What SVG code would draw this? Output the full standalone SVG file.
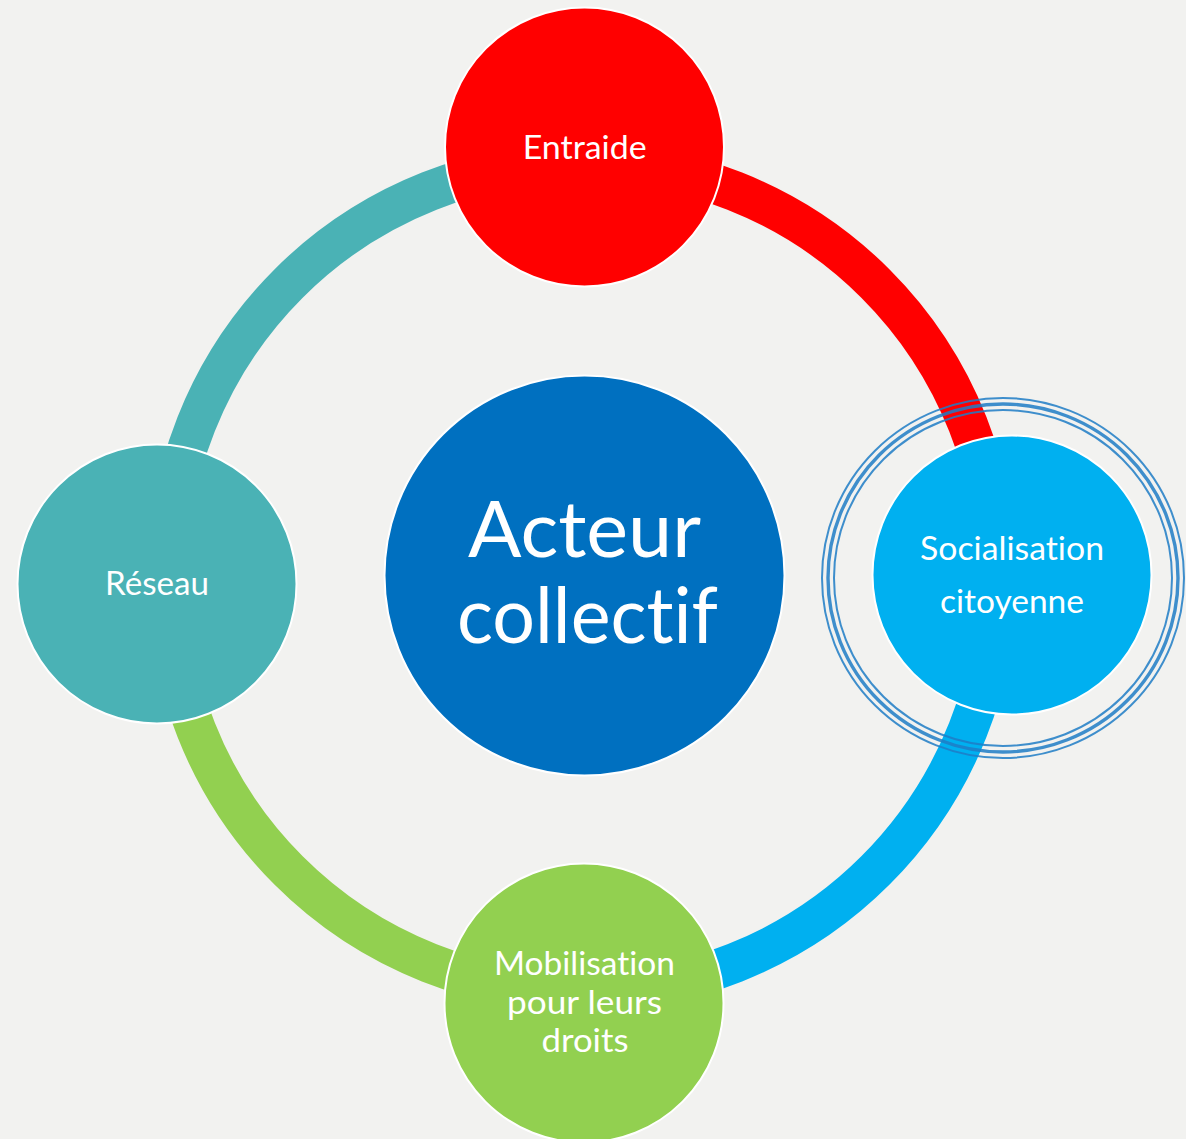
<svg xmlns="http://www.w3.org/2000/svg" width="1186" height="1139" viewBox="0 0 1186 1139">
<style>
.arc{fill:none;stroke-width:40;stroke-linecap:butt}
.node{stroke:#ffffff;stroke-width:2}
.lbl{font-family:Lato,"Open Sans","Liberation Sans",sans-serif;fill:#ffffff;text-anchor:middle;font-size:33px;font-variant-ligatures:none;font-feature-settings:"liga" 0,"dlig" 0}
.big{font-size:77px}
.ring{fill:none;stroke:#1e7dc5;stroke-opacity:0.85}
</style>
<rect width="1186" height="1139" fill="#f2f2f0"/>
<g id="connectors">
<path class="arc" stroke="#ff0000" d="M582,162 A415,415 0 0 1 997,577"/>
<path class="arc" stroke="#00b0f0" d="M997,577 A415,415 0 0 1 582,992"/>
<path class="arc" stroke="#92d050" d="M582,992 A415,415 0 0 1 167,577"/>
<path class="arc" stroke="#4ab2b5" d="M167,577 A415,415 0 0 1 582,162"/>
</g>
<g id="highlight-ring">
<ellipse class="ring" cx="1003" cy="578" rx="181" ry="180" stroke-width="2"/>
<ellipse class="ring" cx="1003" cy="578" rx="175" ry="174" stroke-width="3.4"/>
<ellipse class="ring" cx="1003" cy="578" rx="169" ry="168" stroke-width="2"/>
</g>
<g id="node-center">
<circle class="node" cx="584.5" cy="575.5" r="200" fill="#0070c0"/>
<text class="lbl big" x="584.5" y="557" textLength="233" lengthAdjust="spacingAndGlyphs">Acteur</text>
<text class="lbl big" x="587.5" y="643" textLength="261" lengthAdjust="spacingAndGlyphs">collectif</text>
</g>
<g id="node-entraide">
<circle class="node" cx="584.5" cy="147" r="139.5" fill="#ff0000"/>
<text class="lbl" x="584.7" y="159" textLength="124" lengthAdjust="spacingAndGlyphs">Entraide</text>
</g>
<g id="node-socialisation">
<circle class="node" cx="1012" cy="575" r="139.5" fill="#00b0f0"/>
<text class="lbl" x="1012" y="560" textLength="184" lengthAdjust="spacingAndGlyphs">Socialisation</text>
<text class="lbl" x="1012" y="613" textLength="144" lengthAdjust="spacingAndGlyphs">citoyenne</text>
</g>
<g id="node-mobilisation">
<circle class="node" cx="584" cy="1003" r="139.5" fill="#92d050"/>
<text class="lbl" x="584.5" y="975" textLength="181" lengthAdjust="spacingAndGlyphs">Mobilisation</text>
<text class="lbl" x="584.5" y="1014" textLength="155" lengthAdjust="spacingAndGlyphs">pour leurs</text>
<text class="lbl" x="585" y="1052" textLength="87" lengthAdjust="spacingAndGlyphs">droits</text>
</g>
<g id="node-reseau">
<circle class="node" cx="157" cy="584" r="139.5" fill="#4ab2b5"/>
<text class="lbl" x="157" y="595" textLength="104" lengthAdjust="spacingAndGlyphs">Réseau</text>
</g>
</svg>
